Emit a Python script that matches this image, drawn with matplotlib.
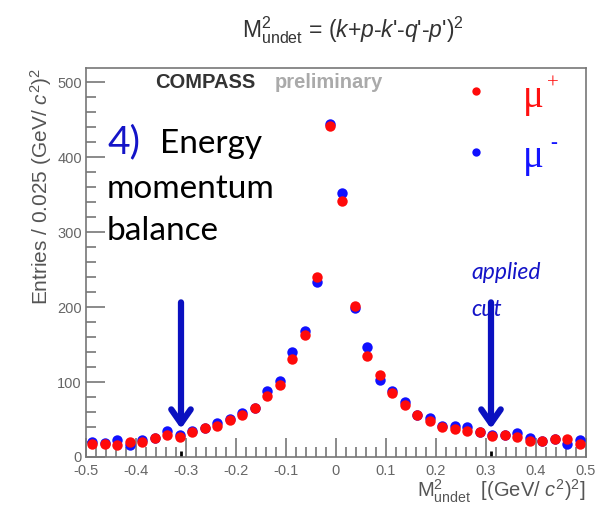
import numpy as np
import matplotlib
matplotlib.use("Agg")
import matplotlib.pyplot as plt
from matplotlib.ticker import MultipleLocator

####################
# Data
####################

# bin centres, 40 bins of 0.025 from -0.5 to 0.5
bin_width = 0.025
bin_centres = np.arange(-0.5 + bin_width / 2, 0.5, bin_width)

mu_plus = [18, 18, 16, 20, 20, 26, 29, 27, 34, 39,
           41, 49, 56, 66, 81, 96, 131, 163, 240, 442,
           342, 202, 135, 109, 85, 70, 56, 48, 40, 38,
           35, 33, 28, 29, 27, 22, 22, 24, 24, 17]
mu_minus = [20, 19, 23, 16, 23, 26, 35, 29, 35, 39,
            46, 51, 59, 66, 88, 101, 140, 168, 233, 444,
            352, 199, 147, 103, 88, 74, 56, 52, 41, 41,
            40, 34, 29, 30, 32, 25, 22, 24, 18, 23]

cut = 0.31
arrow_top = 210
arrow_tip = 34

####################
# Plot
####################

plt.rcParams['font.family'] = ['Liberation Sans', 'DejaVu Sans']
plt.rcParams['mathtext.fontset'] = 'custom'
plt.rcParams['mathtext.rm'] = 'Liberation Sans'
plt.rcParams['mathtext.it'] = 'Liberation Sans:italic'
plt.rcParams['mathtext.bf'] = 'Liberation Sans:bold'

fig = plt.figure(figsize=(6.02, 5.05), dpi=100)
ax = fig.add_axes([86 / 602, 1 - 457 / 505, 500 / 602, 389 / 505])

ax.plot(bin_centres, mu_minus, 'o', color='#1010ff', ms=7.5, mec='none', zorder=3)
ax.plot(bin_centres, mu_plus, 'o', color='#ff0a0a', ms=7.5, mec='none', zorder=4)

ax.set_xlim(-0.5, 0.5)
ax.set_ylim(0, 519)

# ROOT-like axes
for side in ['top', 'right', 'left', 'bottom']:
    ax.spines[side].set_color('#777777')
    ax.spines[side].set_linewidth(1.2)
ax.xaxis.set_major_locator(MultipleLocator(0.1))
ax.xaxis.set_minor_locator(MultipleLocator(0.02))
ax.yaxis.set_major_locator(MultipleLocator(100))
ax.yaxis.set_minor_locator(MultipleLocator(20))
ax.tick_params(which='both', direction='in', colors='#777777', labelcolor='#666666',
               labelsize=10.5, top=False, right=False)
ax.tick_params(which='major', length=14, width=1.2)
ax.tick_params(which='minor', length=7, width=1.2)
ax.tick_params(axis='x', pad=5)
ax.tick_params(axis='y', pad=3)
ax.set_xticks(np.round(np.arange(-0.5, 0.51, 0.1), 1))
ax.set_xticklabels(['-0.5', '-0.4', '-0.3', '-0.2', '-0.1', '0',
                    '0.1', '0.2', '0.3', '0.4', '0.5'])

ax.set_ylabel(r'Entries / 0.025 (GeV/ $c^2$)$^2$', fontsize=15, color='#555555',
              loc='top', labelpad=2)
ax.set_xlabel(r'M$^2_{\mathrm{undet}}$  [(GeV/ $c^2$)$^2$]', fontsize=14.5, color='#555555',
              loc='right', labelpad=0)

fig.text(0.587, 0.94, r"M$^2_{\mathrm{undet}}$ = ($k$+$p$-$k$'-$q$'-$p$')$^2$",
         ha='center', va='center', fontsize=16.5, color='#333333')

# COMPASS preliminary
ax.text(0.138, 0.963, 'COMPASS', transform=ax.transAxes, fontsize=14.5,
        fontweight='bold', color='#333333', va='center')
ax.text(0.378, 0.963, 'preliminary', transform=ax.transAxes, fontsize=14.5,
        fontweight='bold', color='#aaaaaa', va='center')

# annotation text
ax.text(0.042, 0.81, '4)', transform=ax.transAxes, fontsize=28,
        color='#1414c8', family='Lato', va='center')
ax.text(0.148, 0.805, 'Energy', transform=ax.transAxes, fontsize=24,
        color='black', family='Lato', va='center')
ax.text(0.042, 0.69, 'momentum', transform=ax.transAxes, fontsize=24,
        color='black', family='Lato', va='center')
ax.text(0.042, 0.58, 'balance', transform=ax.transAxes, fontsize=24,
        color='black', family='Lato', va='center')
ax.text(0.77, 0.475, 'applied', transform=ax.transAxes, fontsize=16.5,
        color='#1414c8', family='Lato', style='italic', va='center')
ax.text(0.77, 0.378, 'cut', transform=ax.transAxes, fontsize=16.5,
        color='#1414c8', family='Lato', style='italic', va='center')

# legend
ax.plot([0.78], [0.94], 'o', transform=ax.transAxes, color='#ff0a0a', ms=6, mec='none')
ax.plot([0.78], [0.785], 'o', transform=ax.transAxes, color='#1010ff', ms=6, mec='none')
ax.text(0.874, 0.925, '\u03bc', transform=ax.transAxes, fontsize=28,
        color='#ff1010', va='center', family='Liberation Serif')
ax.text(0.922, 0.958, '+', transform=ax.transAxes, fontsize=15,
        color='#ff1010', va='center', family='Liberation Serif')
ax.text(0.874, 0.77, '\u03bc', transform=ax.transAxes, fontsize=28,
        color='#1414ff', va='center', family='Liberation Serif')
ax.text(0.928, 0.805, '-', transform=ax.transAxes, fontsize=15,
        color='#1414ff', va='center', family='Liberation Serif')

# cut arrows
for xc in [-cut, cut]:
    ax.annotate('', xy=(xc, arrow_tip), xytext=(xc, arrow_top),
                arrowprops=dict(arrowstyle='->,head_length=1.0,head_width=0.7',
                                color='#0a10c0', lw=4.5), zorder=6)
ax.vlines([-cut, cut], 0, 8, colors='black', lw=2, zorder=2)

fig.savefig('out.png', dpi=100)
